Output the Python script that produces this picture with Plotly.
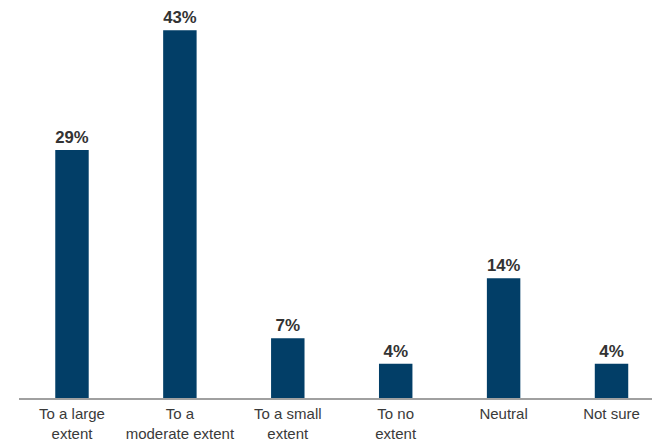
import plotly.graph_objects as go

categories = ["To a large<br>extent", "To a<br>moderate extent", "To a small<br>extent",
              "To no<br>extent", "Neutral", "Not sure"]
values = [29, 43, 7, 4, 14, 4]
labels = [f"{v}%" for v in values]

fig = go.Figure(go.Bar(
    x=categories, y=values, text=labels,
    textposition="outside", cliponaxis=False,
    marker=dict(color="#023e67", line=dict(width=0)),
    textfont=dict(family="Liberation Sans, Arial, sans-serif", size=17, color="#333333", weight="bold"),
    width=0.31,
))

# page body has an 8px default margin, so the figure is 8px smaller than the window
fig.update_layout(
    width=652, height=433,
    margin=dict(l=11, r=5, t=12, b=43, autoexpand=False),
    paper_bgcolor="white", plot_bgcolor="white",
    showlegend=False,
    font=dict(family="Liberation Sans, Arial, sans-serif", size=15, color="#333333"),
    xaxis=dict(type="category", range=[-0.491, 5.403], showline=True, linecolor="#a0a0a0",
               linewidth=2, ticks="", showgrid=False, automargin=False,
               ticklabelstandoff=1, tickfont=dict(size=15, color="#3a3a3a")),
    yaxis=dict(range=[0, 44.2], visible=False, showgrid=False, zeroline=False, automargin=False),
)

fig.write_html("out.html")
